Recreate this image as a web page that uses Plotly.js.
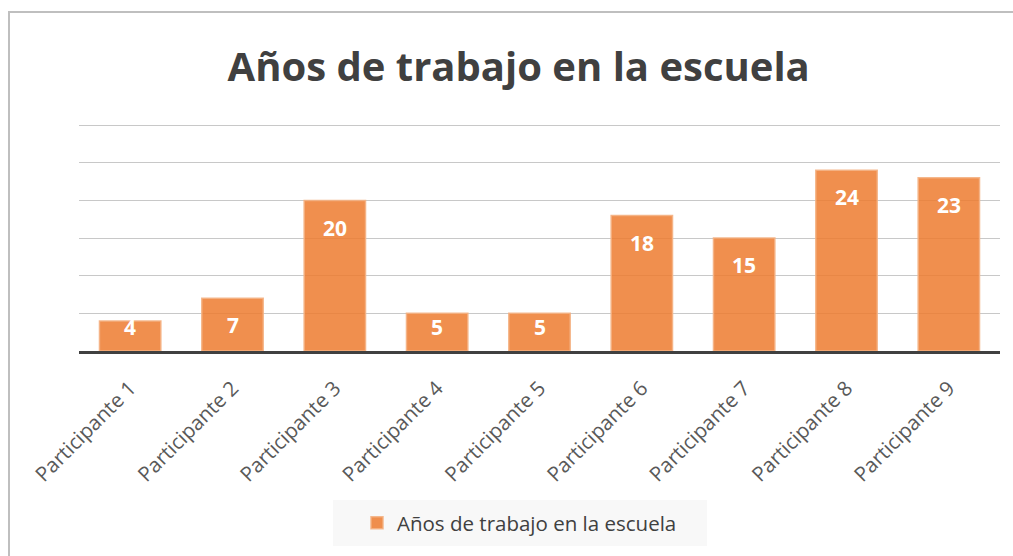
<!DOCTYPE html>
<html>
<head>
<meta charset="utf-8">
<script src="https://cdn.plot.ly/plotly-3.0.1.min.js"></script>
<style>html,body{margin:0;padding:0;background:#fff;}#chart{width:1013px;height:556px;}</style>
</head>
<body>
<div id="chart"></div>
<script>
const categories = ["Participante 1","Participante 2","Participante 3","Participante 4","Participante 5","Participante 6","Participante 7","Participante 8","Participante 9"];
const values = [4, 7, 20, 5, 5, 18, 15, 24, 23];
const seriesName = "Años de trabajo en la escuela";
const chartTitle = "Años de trabajo en la escuela";

const W = 1013, H = 556;
const mL = 79, mR = 13, mT = 124, mB = 205;
const pw = W - mL - mR, ph = H - mT - mB;
function px(x){ return (x - mL) / pw; }
function py(y){ return (H - mB - y) / ph; }

const trace = {
  type: 'bar',
  x: categories,
  y: values,
  name: seriesName,
  marker: {color: 'rgba(237,125,49,0.86)', line: {color: 'rgba(244,177,131,0.9)', width: 1.5}},
  hoverinfo: 'skip'
};

// data labels: "inside end", kept inside short bars
const labelAnnotations = values.map((v, i) => ({
  x: categories[i], y: Math.max(v - 3.6, 3.2), xref: 'x', yref: 'y',
  text: String(v), showarrow: false, xanchor: 'center', yanchor: 'middle',
  font: {family: 'Open Sans, sans-serif', size: 21, color: '#ffffff', weight: 'bold'}
}));

const layout = {
  width: W, height: H,
  margin: {l: mL, r: mR, t: mT, b: mB, pad: 0},
  paper_bgcolor: '#ffffff', plot_bgcolor: '#ffffff',
  bargap: 0.4,
  title: {text: chartTitle, x: 0.512, xanchor: 'center', y: 0.88, yanchor: 'middle',
          font: {family: 'Open Sans, sans-serif', size: 40, color: '#404040', weight: 'bold'}},
  xaxis: {type: 'category', tickangle: -45, showgrid: false, ticks: '', showline: true,
          linecolor: '#404040', linewidth: 3, ticklabelstandoff: 14,
          tickfont: {family: 'Open Sans, sans-serif', size: 20.5, color: '#595959'}, fixedrange: true},
  yaxis: {range: [0, 30.15], dtick: 5, showticklabels: false, ticks: '', showgrid: true,
          gridcolor: '#c8c8c8', gridwidth: 1, zeroline: false, showline: false, fixedrange: true},
  showlegend: true,
  legend: {orientation: 'h', x: 0.5 - 20 / pw, xanchor: 'center', y: py(523), yanchor: 'middle',
           bgcolor: 'rgba(0,0,0,0)', font: {family: 'Open Sans, sans-serif', size: 20.5, color: '#404040'},
           itemwidth: 30},
  annotations: labelAnnotations,
  shapes: [
    {type: 'rect', xref: 'paper', yref: 'paper', x0: px(9), x1: px(1030), y0: py(580), y1: py(12),
     line: {color: '#bfbfbf', width: 2}, fillcolor: 'rgba(0,0,0,0)', layer: 'below'},
    {type: 'rect', xref: 'paper', yref: 'paper', x0: px(333), x1: px(707), y0: py(546), y1: py(500),
     line: {width: 0}, fillcolor: '#f8f8f8', layer: 'below'}
  ]
};

Plotly.newPlot('chart', [trace], layout, {displayModeBar: false, staticPlot: true});
</script>
</body>
</html>
